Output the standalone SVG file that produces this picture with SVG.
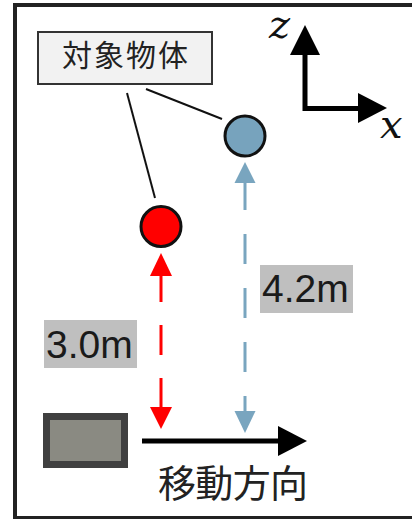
<svg xmlns="http://www.w3.org/2000/svg" width="412" height="519" viewBox="0 0 412 519">
<style>
.jp{font-family:"Noto Sans CJK JP","Noto Sans",sans-serif;fill:#222}
.num{font-family:"Liberation Sans",Arial,sans-serif;font-size:39px;fill:#1a1a1a}
.ax{font-family:"DejaVu Serif","Liberation Serif",serif;font-style:italic;font-size:40px;fill:#111}
.lead{stroke:#111;stroke-width:2;fill:none}
</style>
<rect x="15" y="5" width="410" height="513" fill="#fff" stroke="#222" stroke-width="4"/>
<g id="connectors">
  <line class="lead" x1="127" y1="93" x2="155" y2="198"/>
  <line class="lead" x1="146" y1="89" x2="222" y2="119"/>
  <line x1="161" y1="276" x2="161" y2="407" stroke="#ff0000" stroke-width="3" stroke-dasharray="30 23" stroke-dashoffset="4"/>
  <polygon points="161,253 150,276 172,276" fill="#ff0000"/>
  <polygon points="161,429 150,407 172,407" fill="#ff0000"/>
  <line x1="245" y1="183" x2="245" y2="411" stroke="#79a5bf" stroke-width="3" stroke-dasharray="30 24" stroke-dashoffset="3"/>
  <polygon points="245,162 234.5,183 255.5,183" fill="#79a5bf"/>
  <polygon points="245,433 234.5,411 255.5,411" fill="#79a5bf"/>
  <line x1="142" y1="441" x2="280" y2="441" stroke="#000" stroke-width="5"/>
  <polygon points="307,441 278,426 278,456" fill="#000"/>
</g>
<g id="axes">
  <path d="M305 52 V108.5 H360" fill="none" stroke="#000" stroke-width="5"/>
  <polygon points="305,25 290,55 320,55" fill="#000"/>
  <polygon points="387,108 358,93 358,123" fill="#000"/>
  <text class="ax" x="269" y="38">z</text>
  <text class="ax" x="380" y="138">x</text>
</g>
<g id="label">
  <rect x="38" y="32" width="174" height="52" fill="#f2f2f2" stroke="#333" stroke-width="2"/>
  <text class="jp" x="125" y="66" font-size="30" text-anchor="middle" textLength="126" lengthAdjust="spacing">対象物体</text>
</g>
<g id="blue-object">
  <circle cx="245" cy="136" r="20" fill="#77a3bd" stroke="#111" stroke-width="3"/>
</g>
<g id="red-object">
  <circle cx="161" cy="226.5" r="20" fill="#ff0000" stroke="#111" stroke-width="3"/>
</g>
<g id="label-30">
  <rect x="44" y="320" width="93" height="48" fill="#bfbfbf"/>
  <text class="num" x="46" y="358">3.0m</text>
</g>
<g id="label-42">
  <rect x="260" y="265" width="93" height="48" fill="#bfbfbf"/>
  <text class="num" x="262" y="302">4.2m</text>
</g>
<g id="vehicle">
  <rect x="46.5" y="416.5" width="78" height="48" fill="#8a8a82" stroke="#404040" stroke-width="7"/>
</g>
<g id="direction">
  <text class="jp" x="233" y="497" font-size="38" text-anchor="middle" textLength="150" lengthAdjust="spacing">移動方向</text>
</g>
</svg>
